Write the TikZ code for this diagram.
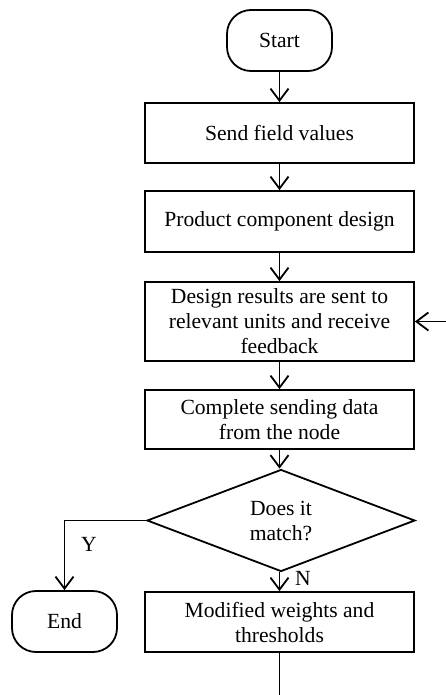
\documentclass[tikz,border=0pt]{standalone}
\usepackage{fontspec}
\setmainfont{Liberation Serif}
\usetikzlibrary{shapes.geometric,arrows.meta}
\begin{document}
\begin{tikzpicture}[x=1pt,y=-1pt,
  every node/.style={font=\fontsize{21.6}{25}\selectfont},
  proc/.style={draw,line width=1.8pt,rectangle,minimum width=269pt,minimum height=60pt,inner sep=0pt,align=center},
  term/.style={draw,line width=1.8pt,rectangle,rounded corners=24pt,inner sep=0pt,align=center},
  decis/.style={draw,line width=1.8pt,diamond,minimum width=268pt,minimum height=85pt,inner sep=0pt,align=center},
  flow/.style={line width=1.8pt,-{Straight Barb[length=12pt,width=18pt,line width=1.8pt]}},
  lbl/.style={inner sep=0pt}]
\useasboundingbox (0,0) rectangle (446,695);
\clip (0,0) rectangle (446,695);
\node[term,minimum width=105pt,minimum height=61pt] (start) at (279.5,40.5) {Start};
\node[proc] (send) at (279.5,133) {Send field values};
\node[proc,minimum height=61pt] (prod) at (279.5,221.5) {Product component design};
\node[proc,minimum height=79pt] (design) at (279.5,321.5) {Design results are sent to\\relevant units and receive\\feedback};
\node[proc,minimum height=59pt] (comp) at (279.5,419.5) {Complete sending data\\from the node};
\node[decis] (dec) at (281,520.5) {Does it\\match?};
\node[proc] (mod) at (279.5,622) {Modified weights and\\thresholds};
\node[term,minimum width=105pt,minimum height=61pt] (end) at (64.5,621.5) {End};
\coordinate (b1) at (279.5,730);
\coordinate (b2) at (480,730);
\draw[flow] (start) -- (send);
\draw[flow] (send) -- (prod);
\draw[flow] (prod) -- (design);
\draw[flow] (design) -- (comp);
\draw[flow] (comp) -- (comp.south |- dec.north);
\draw[flow] (dec.south -| mod.north) -- (mod);
\draw[flow] (dec.west) -- (end.north |- dec.west) -- (end);
\draw[flow] (mod) -- (b1) -- (b2) -- (b2 |- design.east) -- (design.east);
\node[lbl] (ylab) at (89,544) {Y};
\node[lbl] (nlab) at (303,578) {N};
\end{tikzpicture}
\end{document}
